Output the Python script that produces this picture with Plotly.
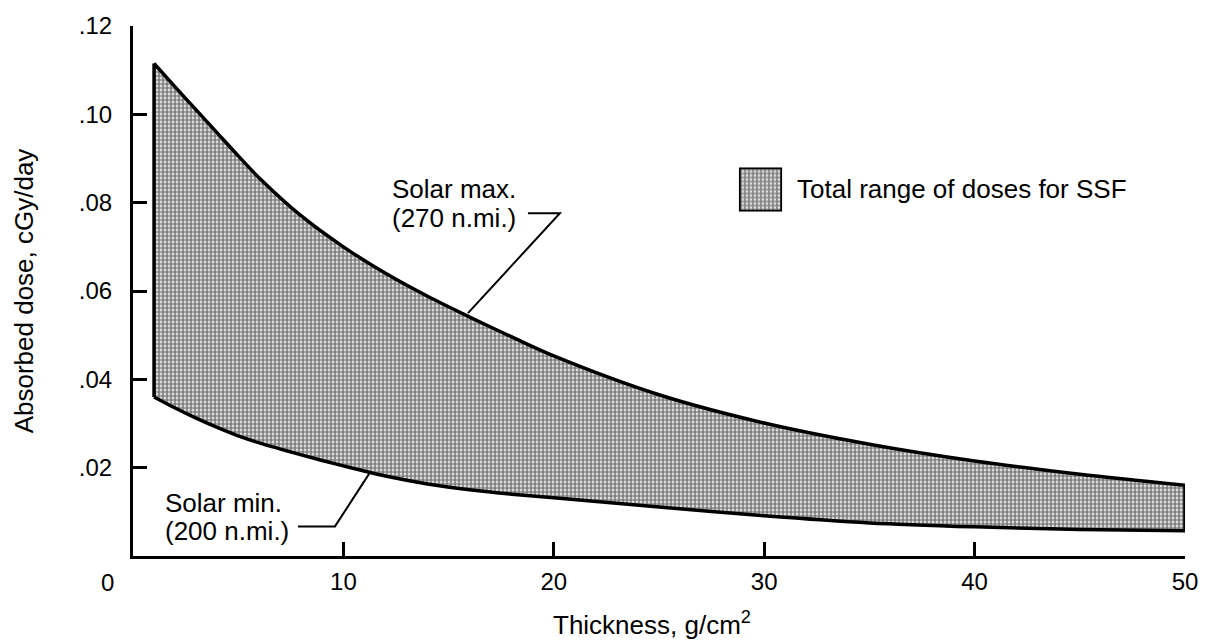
import plotly.graph_objects as go

# ---- data ----
thickness = [1, 2, 3, 4, 5, 6, 8, 10, 12, 14, 16, 18, 20, 25, 30, 35, 40, 45, 50]
solar_max = [0.1115, 0.1062, 0.1010, 0.0958, 0.0906, 0.0856, 0.0770, 0.0700, 0.0640,
             0.0588, 0.0541, 0.0496, 0.0453, 0.0365, 0.0301, 0.0253, 0.0215, 0.0185, 0.0160]
solar_min = [0.0360, 0.0335, 0.0312, 0.0291, 0.0272, 0.0256, 0.0229, 0.0204, 0.0181,
             0.0163, 0.0150, 0.0140, 0.0132, 0.0111, 0.0091, 0.0075, 0.0066, 0.0060, 0.0057]

x_ticks = [10, 20, 30, 40, 50]
y_ticks = [0.02, 0.04, 0.06, 0.08, 0.10, 0.12]
y_tick_labels = [".02", ".04", ".06", ".08", ".10", ".12"]

FONT = "Liberation Sans, Arial, Helvetica, sans-serif"
pattern = dict(shape=".", size=4, solidity=0.7, fgcolor="black", bgcolor="white")
LW = 3.5

fig = go.Figure()

# lower edge of band (solar minimum)
fig.add_trace(go.Scatter(
    x=thickness, y=solar_min, mode="lines",
    line=dict(color="black", width=LW, shape="spline", smoothing=0.9),
    showlegend=False, hoverinfo="skip", cliponaxis=False,
))
# upper edge (solar maximum), filled down to the lower edge
fig.add_trace(go.Scatter(
    x=thickness, y=solar_max, mode="lines", fill="tonexty",
    fillpattern=pattern, fillcolor="white",
    line=dict(color="black", width=LW, shape="spline", smoothing=0.9),
    showlegend=False, hoverinfo="skip", cliponaxis=False,
))
# vertical closing edges at both ends of the band
for i in (0, -1):
    fig.add_trace(go.Scatter(
        x=[thickness[i], thickness[i]], y=[solar_min[i], solar_max[i]], mode="lines",
        line=dict(color="black", width=LW),
        showlegend=False, hoverinfo="skip", cliponaxis=False,
    ))

# legend swatch on its own small axes
fig.add_trace(go.Scatter(
    x=[0, 1, 1, 0, 0], y=[0, 0, 1, 1, 0], mode="lines", fill="toself",
    fillpattern=pattern, fillcolor="white",
    line=dict(color="black", width=LW),
    xaxis="x2", yaxis="y2", showlegend=False, hoverinfo="skip", cliponaxis=False,
))

fig.update_layout(
    width=1212, height=642,
    margin=dict(l=133, r=27, t=21, b=86),
    paper_bgcolor="white", plot_bgcolor="white",
    font=dict(family=FONT, size=24, color="black"),
    showlegend=False,
    xaxis=dict(
        range=[0, 50], tickvals=x_ticks, ticktext=[str(v) for v in x_ticks],
        ticks="inside", ticklen=14, tickwidth=2.5, tickcolor="black",
        showline=True, linecolor="black", linewidth=3,
        showgrid=False, zeroline=False, ticklabelstandoff=2,
        tickfont=dict(size=24),
    ),
    yaxis=dict(
        range=[0, 0.12], tickvals=y_ticks, ticktext=y_tick_labels,
        ticks="inside", ticklen=14, tickwidth=2.5, tickcolor="black",
        showline=True, linecolor="black", linewidth=3,
        showgrid=False, zeroline=False, ticklabelstandoff=13,
        tickfont=dict(size=24),
        title=dict(text="Absorbed dose, cGy/day", font=dict(size=26), standoff=38),
    ),
    xaxis2=dict(domain=[0.576, 0.617], range=[0, 1], visible=False, anchor="y2"),
    yaxis2=dict(domain=[0.650, 0.733], range=[0, 1], visible=False, anchor="x2"),
)

ann = []
ann.append(dict(x=0.4935, y=-0.127, xref="paper", yref="paper", xanchor="center", yanchor="middle",
                text="Thickness, g/cm<sup>2</sup>", showarrow=False, font=dict(size=26)))
ann.append(dict(x=0, y=0, xref="x", yref="y", text="0", showarrow=False,
                xshift=-26, yshift=-26, font=dict(size=24)))
ann.append(dict(x=0.629, y=0.692, xref="paper", yref="paper", xanchor="left", yanchor="middle",
                text="Total range of doses for SSF", showarrow=False, font=dict(size=26)))
ann.append(dict(x=12.21, y=0.083, xref="x", yref="y", xanchor="left", yanchor="middle",
                text="Solar max.", showarrow=False, font=dict(size=26)))
ann.append(dict(x=12.21, y=0.0765, xref="x", yref="y", xanchor="left", yanchor="middle",
                text="(270 n.mi.)", showarrow=False, font=dict(size=26)))
ann.append(dict(x=1.43, y=0.0121, xref="x", yref="y", xanchor="left", yanchor="middle",
                text="Solar min.", showarrow=False, font=dict(size=26)))
ann.append(dict(x=1.43, y=0.0056, xref="x", yref="y", xanchor="left", yanchor="middle",
                text="(200 n.mi.)", showarrow=False, font=dict(size=26)))
fig.update_layout(annotations=ann)

# leader lines
fig.add_shape(type="path", xref="x", yref="y",
              path="M 18.77 0.0776 L 20.29 0.0776 L 15.92 0.0550",
              line=dict(color="black", width=2))
fig.add_shape(type="path", xref="x", yref="y",
              path="M 7.84 0.0067 L 9.60 0.0067 L 11.22 0.0186",
              line=dict(color="black", width=2))

fig.write_html("out.html")
